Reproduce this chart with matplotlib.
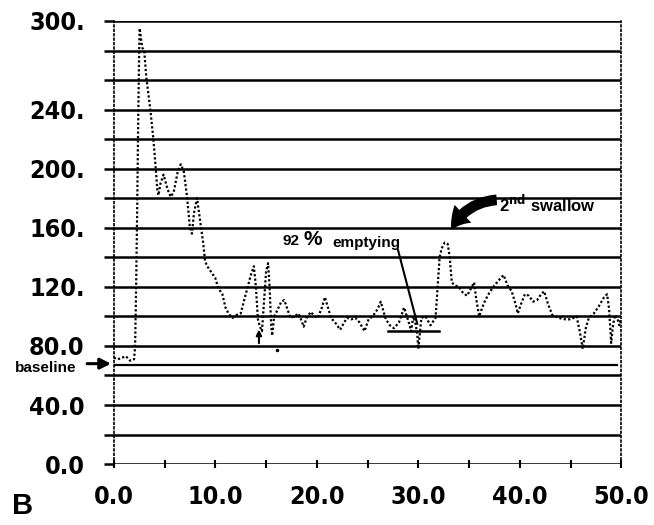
import matplotlib
matplotlib.use('Agg')
import matplotlib.pyplot as plt
from matplotlib import font_manager
from matplotlib.font_manager import FontProperties
from matplotlib.patches import FancyArrowPatch

# trace (time, value)
t = [0.0, 0.4, 0.8, 1.2, 1.6, 2.0, 2.1, 2.2, 2.3, 2.4, 2.5, 2.55, 2.65, 2.8, 3.0,
     3.2, 3.6, 3.9, 4.1, 4.3, 4.4, 4.6, 4.9, 5.3, 5.6, 5.9, 6.3, 6.6, 6.9, 7.2,
     7.5, 7.7, 7.9, 8.2, 8.5, 8.8, 9.0, 9.3, 9.6, 10.0, 10.3, 10.7, 11.0, 11.3, 11.7,
     12.1, 12.5, 13.0, 13.5, 13.8, 14.0, 14.2, 14.4, 14.6, 14.8, 15.0, 15.2, 15.35, 15.5,
     15.6, 15.8, 16.1, 16.5, 16.8, 17.1, 17.4, 17.8, 18.2, 18.5, 18.7, 19.0, 19.4, 19.8,
     20.1, 20.5, 20.8, 21.1, 21.4, 21.9, 22.3, 22.7, 23.0, 23.4, 23.8, 24.2, 24.7, 25.1,
     25.5, 26.0, 26.3, 26.8, 27.2, 27.6, 28.1, 28.6, 29.1, 29.3, 29.5, 29.7, 29.9, 30.0,
     30.15, 30.3, 30.7, 31.2, 31.7, 31.9, 32.1, 32.3, 32.6, 32.9, 33.1, 33.3, 33.6, 34.0,
     34.4, 34.8, 35.2, 35.5, 35.7, 36.0, 36.3, 36.6, 37.0, 37.5, 38.0, 38.4, 38.8, 39.2,
     39.6, 39.8, 40.1, 40.5, 40.9, 41.3, 41.7, 42.1, 42.4, 42.8, 43.2, 43.8, 44.5, 45.0,
     45.6, 45.9, 46.2, 46.5, 46.8, 47.3, 47.8, 48.3, 48.6, 48.8, 49.0, 49.2, 49.4, 49.6,
     49.8, 50.0]
val = [72, 71, 72, 73, 70, 71, 80, 120, 170, 230, 280, 295, 290, 282, 280,
       262, 240, 220, 203, 185, 182, 190, 196, 186, 181, 184, 198, 203, 198, 182,
       160, 156, 170, 180, 165, 150, 137, 133, 130, 126, 119, 115, 106, 102, 99,
       101, 102, 115, 128, 134, 120, 98, 93, 90, 110, 130, 136, 120, 95,
       87, 100, 104, 110, 111, 105, 99, 100, 102, 97, 93, 99, 103, 100,
       99, 106, 113, 106, 99, 95, 91, 96, 99, 98, 99, 96, 90, 98,
       100, 105, 110, 98, 94, 92, 96, 106, 95, 90, 100, 96, 88, 78,
       88, 99, 100, 94, 99, 119, 140, 146, 150, 149, 140, 123, 121, 120,
       116, 114, 119, 123, 112, 100, 106, 111, 116, 121, 125, 128, 121, 117,
       108, 102, 108, 115, 114, 110, 111, 115, 117, 108, 101, 99, 98, 98,
       100, 90, 78, 92, 99, 102, 107, 113, 115, 105, 82, 95, 101, 99,
       94, 100]

grid_y = list(range(0, 301, 20))
ytick_text = {300: '300.', 240: '240.', 200: '200.', 160: '160.', 120: '120.',
              80: '80.0', 40: '40.0', 0: '0.0'}
xticks = [0, 10, 20, 30, 40, 50]
xtick_text = ['0.0', '10.0', '20.0', '30.0', '40.0', '50.0']
baseline = 67
empty_level = 90
empty_span = (27.0, 32.0)

# look for a narrow / condensed bold face for the big tick numbers
def is_bold(w):
    if isinstance(w, str):
        return w in ('bold', 'heavy', 'black', 'demibold', 'semibold', 'extra bold')
    return w >= 600

narrow = None
for f in font_manager.fontManager.ttflist:
    squeezed = ('Narrow' in f.name or 'Condensed' in f.name or
                f.stretch in ('condensed', 'semi-condensed', 'extra-condensed', 'ultra-condensed'))
    if squeezed and is_bold(f.weight) and f.style == 'normal':
        if narrow is None or 'Mono' in narrow.name:
            narrow = f

if narrow is not None:
    tick_fp = FontProperties(fname=narrow.fname, size=18)
else:
    tick_fp = FontProperties(family='DejaVu Sans', weight='bold', size=16)

names = {f.name for f in font_manager.fontManager.ttflist}
note_font = 'Liberation Sans' if 'Liberation Sans' in names else 'DejaVu Sans'

fig = plt.figure(figsize=(6.54, 5.25), dpi=100)
ax = fig.add_axes([0.174, 0.116, 0.776, 0.844])
ax.set_xlim(0, 50)
ax.set_ylim(0, 300)

for g in grid_y:
    ax.axhline(g, color='k', lw=1.8, zorder=1)

ax.plot(t, val, color='k', ls=(0, (1, 1)), lw=1.6, zorder=3)

# baseline
ax.plot([0, 49.6], [baseline, baseline], color='k', lw=1.6)
ax.annotate('', xy=(0, baseline + 1), xytext=(-2.9, baseline + 1),
            arrowprops=dict(arrowstyle='-|>', color='k', lw=2.2, mutation_scale=16),
            annotation_clip=False)
ax.text(-6.7, 65, 'baseline', ha='center', va='center', fontsize=11,
        fontweight='bold', family=note_font, clip_on=False)

# small marker arrow + dot
ax.annotate('', xy=(14.3, 93), xytext=(14.3, 80),
            arrowprops=dict(arrowstyle='-|>', color='k', lw=1.5, mutation_scale=8))
ax.plot([16.1], [77], 'k.', ms=3)

# 92 % emptying
ax.plot(empty_span, [empty_level, empty_level], color='k', lw=1.8)
ax.plot([28.0, 29.9], [145, 95], color='k', lw=1.5)
ax.text(16.6, 151, '92', ha='left', va='center', fontsize=11, fontweight='bold', family=note_font)
ax.text(18.7, 152, '%', ha='left', va='center', fontsize=15, fontweight='bold', family=note_font)
ax.text(21.5, 150, 'emptying', ha='left', va='center', fontsize=11, fontweight='bold', family=note_font)

# 2nd swallow
ax.text(38.0, 176, r'2$^{\mathbf{nd}}$ swallow', ha='left', va='center', fontsize=12,
        fontweight='bold', family=note_font)
arr = FancyArrowPatch((38.0, 179), (33.1, 157), connectionstyle='arc3,rad=0.3',
                      arrowstyle='simple,head_length=1.3,head_width=1.6,tail_width=0.7',
                      mutation_scale=11, color='k', lw=0)
ax.add_patch(arr)

ax.set_yticks(grid_y)
ax.set_yticklabels([ytick_text.get(g, '') for g in grid_y])
ax.set_xticks(xticks)
ax.set_xticklabels(xtick_text)
ax.set_xticks([5, 15, 25, 35, 45], minor=True)
ax.tick_params(axis='y', direction='out', length=7, width=1.8, pad=14)
ax.tick_params(axis='x', which='both', direction='inout', length=6, width=1.5, pad=12)
for lab in ax.get_xticklabels() + ax.get_yticklabels():
    lab.set_fontproperties(tick_fp)

for s in ['top', 'bottom']:
    ax.spines[s].set_visible(False)
for s in ['left', 'right']:
    ax.spines[s].set_linestyle(':')
    ax.spines[s].set_linewidth(1.2)

fig.text(0.018, 0.02, 'B', fontsize=21, fontweight='bold', family=note_font)

fig.savefig('out.png', dpi=100)
